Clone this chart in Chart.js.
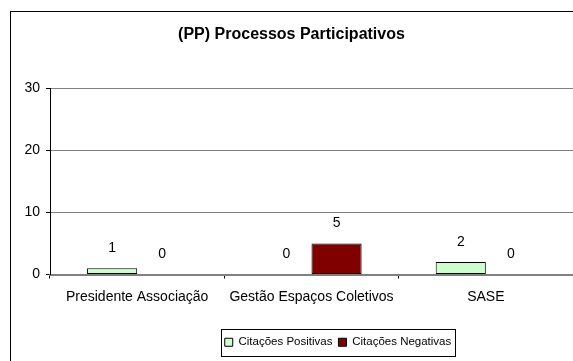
<!DOCTYPE html>
<html>
<head>
<meta charset="utf-8">
<script src="https://cdn.jsdelivr.net/npm/chart.js@4/dist/chart.umd.min.js"></script>
<style>
  html, body { margin: 0; padding: 0; background: #fff; }
  #wrap { width: 573px; height: 361px; position: relative; }
</style>
</head>
<body>
<div id="wrap"><canvas id="c" width="573" height="361"></canvas></div>
<script>
const categories = ['Presidente Associação', 'Gestão Espaços Coletivos', 'SASE'];
const positivas = [1, 0, 2];
const negativas = [0, 5, 0];
const seriesNames = ['Citações Positivas', 'Citações Negativas'];
const yTicks = [0, 10, 20, 30];

const FONT = 'Liberation Sans, Arial, sans-serif';
const LEGEND_PAD = 6;
const LEGEND_FONT = 11.5;

// Frame around the whole chart (runs off the right and bottom edges)
const framePlugin = {
  id: 'frame',
  beforeDraw(chart) {
    const ctx = chart.ctx;
    ctx.save();
    ctx.strokeStyle = '#000';
    ctx.lineWidth = 1;
    ctx.strokeRect(10.5, 11.5, 700, 700);
    ctx.restore();
  }
};

// Value labels above each bar, including the zero ones
const valueLabels = {
  id: 'valueLabels',
  afterDatasetsDraw(chart) {
    const ctx = chart.ctx;
    ctx.save();
    ctx.font = '14px ' + FONT;
    ctx.fillStyle = '#000';
    ctx.textAlign = 'center';
    ctx.textBaseline = 'middle';
    chart.data.datasets.forEach((ds, i) => {
      chart.getDatasetMeta(i).data.forEach((bar, j) => {
        ctx.fillText(String(ds.data[j]), bar.x, bar.y - 20);
      });
    });
    ctx.restore();
  }
};

// Legend sits right of centre; box drawn around its items
const legendFrame = {
  id: 'legendFrame',
  afterLayout(chart) {
    const lg = chart.legend;
    if (!lg) return;
    lg.left += 93;
  },
  afterDraw(chart) {
    const lg = chart.legend;
    if (!lg || !lg.lineWidths) return;
    const lineW = lg.lineWidths[0];
    const startX = (lg.left + LEGEND_PAD + lg.right - lineW) / 2;
    const endX = startX + lineW - LEGEND_PAD;
    const cy = lg.top + LEGEND_PAD + LEGEND_FONT / 2;
    const ctx = chart.ctx;
    ctx.save();
    ctx.strokeStyle = '#000';
    ctx.lineWidth = 1;
    const x0 = Math.round(startX - 4) + 0.5;
    const x1 = Math.round(endX + 4) + 0.5;
    const y0 = Math.round(cy - 13.5) + 0.5;
    ctx.strokeRect(x0, y0, x1 - x0, 27);
    ctx.restore();
  }
};

new Chart(document.getElementById('c'), {
  type: 'bar',
  data: {
    labels: categories,
    datasets: [
      {
        label: seriesNames[0],
        data: positivas,
        backgroundColor: '#CCFFCC',
        borderColor: '#000',
        borderWidth: 1,
        borderSkipped: false
      },
      {
        label: seriesNames[1],
        data: negativas,
        backgroundColor: '#800000',
        borderColor: '#000',
        borderWidth: 1,
        borderSkipped: false
      }
    ]
  },
  options: {
    responsive: false,
    animation: false,
    devicePixelRatio: 1,
    layout: { padding: { left: 10, right: 0, top: 0, bottom: 3 } },
    datasets: {
      bar: { categoryPercentage: 0.575, barPercentage: 1.0 }
    },
    scales: {
      x: {
        offset: true,
        afterFit(scale) { scale.height = 56; },
        grid: {
          offset: true,
          drawOnChartArea: false,
          drawTicks: true,
          tickLength: 4,
          color: '#000'
        },
        border: { display: true, color: '#808080', width: 2 },
        ticks: {
          color: '#000',
          font: { family: FONT, size: 14 },
          padding: 10,
          maxRotation: 0,
          autoSkip: false
        }
      },
      y: {
        min: 0,
        max: 30,
        afterBuildTicks(scale) {
          scale.ticks = yTicks.map(v => ({ value: v }));
        },
        afterFit(scale) { scale.width = 40; },
        grid: {
          color: '#808080',
          tickColor: '#000',
          tickLength: 4,
          drawTicks: true
        },
        border: { display: true, color: '#000', width: 1 },
        ticks: {
          color: '#000',
          font: { family: FONT, size: 14 },
          padding: 6
        }
      }
    },
    plugins: {
      title: {
        display: true,
        text: '(PP) Processos Participativos',
        color: '#000',
        font: { family: FONT, size: 16, weight: 'bold' },
        padding: { top: 25.4, bottom: 43.4 }
      },
      legend: {
        display: true,
        position: 'bottom',
        labels: {
          color: '#000',
          font: { family: FONT, size: LEGEND_FONT },
          boxWidth: 8,
          boxHeight: 8,
          padding: LEGEND_PAD
        }
      },
      tooltip: { enabled: false }
    }
  },
  plugins: [framePlugin, valueLabels, legendFrame]
});
</script>
</body>
</html>
